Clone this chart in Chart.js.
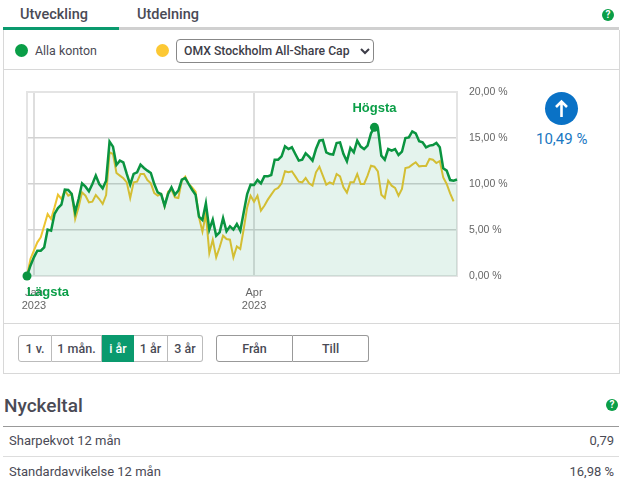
<!DOCTYPE html>
<html lang="sv">
<head>
<meta charset="utf-8">
<script src="https://cdn.jsdelivr.net/npm/chart.js@4"></script>
<style>
html, body { margin: 0; padding: 0; background: #fff; }
body { width: 625px; height: 486px; position: relative; overflow: hidden; font-family: Roboto, sans-serif; color: #4a4a55; }
.abs { position: absolute; white-space: nowrap; }
.hline { position: absolute; height: 1px; }
.dot { position: absolute; border-radius: 50%; }
.help { position: absolute; width: 12px; height: 12px; border-radius: 50%; background: #0a9e47; color: #fff; font: bold 10px/12px Roboto, sans-serif; text-align: center; }
.btn { position: absolute; top: 335px; height: 25px; line-height: 25px; text-align: center; font-size: 12.5px; font-weight: 500; background: #fff; border: 1px solid #bbb; box-sizing: content-box; color: #4a4a55; }
select { position: absolute; left: 176px; top: 39px; width: 198px; height: 24px; font: 500 12.2px Roboto, sans-serif; color: #3d3d48; background: #fff; border: 1px solid #888; border-radius: 4px; padding: 0 0 0 3px; }
#chartBox { position: absolute; left: 20px; top: 85px; width: 500px; height: 235px; }
</style>
</head>
<body>
<div class="abs" style="left:20px;top:6px;font-size:14.5px;font-weight:500">Utveckling</div>
<div class="abs" style="left:137px;top:6px;font-size:14.5px;font-weight:500">Utdelning</div>
<div class="help" style="left:602px;top:9px">?</div>
<div style="position:absolute;left:3px;top:27px;width:616px;height:3px;background:#d0d0d0"></div>
<div style="position:absolute;left:3px;top:27px;width:116px;height:3px;background:#0a9a6e"></div>
<div style="position:absolute;left:3px;top:30px;width:615px;height:343px;border:1px solid #d8d8d8;border-top:0"></div>
<div class="hline" style="left:3px;top:69px;width:616px;background:#d8d8d8"></div>
<div class="hline" style="left:3px;top:323px;width:616px;background:#d8d8d8"></div>

<div class="dot" style="left:15px;top:44px;width:13px;height:13px;background:#0a9e47"></div>
<div class="abs" style="left:35px;top:43px;font-size:12.4px">Alla konton</div>
<div class="dot" style="left:156px;top:44px;width:13px;height:13px;background:#fcc834"></div>
<select><option>OMX Stockholm All-Share Cap</option></select>

<div id="chartBox"><canvas id="lineChart"></canvas></div>

<div class="dot" style="left:545px;top:92px;width:33px;height:33px;background:#0a72c6"></div>
<svg class="abs" style="left:545px;top:92px" width="33" height="33" viewBox="0 0 33 33"><path d="M16.5 25V10M11 15l5.5-5.5L22 15" fill="none" stroke="#fff" stroke-width="2.6"/></svg>
<div class="abs" style="left:536px;top:130px;font-size:15px;color:#1a78c2">10,49 %</div>

<div class="btn" style="left:18px;width:32px;border-radius:3px 0 0 3px">1 v.</div>
<div class="btn" style="left:52px;width:49px;border-left:0">1 mån.</div>
<div class="btn" style="left:102px;width:30px;border:1px solid #0a9a6e;background:#0a9a6e;color:#fff">i år</div>
<div class="btn" style="left:134px;width:33px;border-left:0">1 år</div>
<div class="btn" style="left:168px;width:34px;border-left:0;border-radius:0 3px 3px 0">3 år</div>
<div class="btn" style="left:216px;width:75px;border-color:#999;border-radius:3px 0 0 3px">Från</div>
<div class="btn" style="left:293px;width:75px;border-color:#999;border-left:0;border-radius:0 3px 3px 0">Till</div>

<div class="abs" style="left:4px;top:394px;font-size:19px;font-weight:500">Nyckeltal</div>
<div class="help" style="left:606px;top:399px">?</div>
<div class="hline" style="left:3px;top:426px;width:616px;background:#999"></div>
<div class="abs" style="left:9px;top:433px;font-size:13px">Sharpekvot 12 mån</div>
<div class="abs" style="right:11px;top:433px;font-size:13px">0,79</div>
<div class="hline" style="left:3px;top:456px;width:616px;background:#ddd"></div>
<div class="abs" style="left:9px;top:464px;font-size:13px">Standardavvikelse 12 mån</div>
<div class="abs" style="right:11px;top:464px;font-size:13px">16,98 %</div>

<script>
// Alla konton
const kontoValues = [
    0, 1.12, 2.03, 2.75, 2.75, 3.12, 5.04, 4.93, 6.74, 7.39,
    7.75, 9.38, 9.35, 8.91, 6.92, 8.37, 10.07, 9.71, 9.2, 10,
    10.91, 10, 9.53, 10.36, 14.6, 14.06, 12.07, 12.54, 12.36, 11.09,
    9.93, 11.09, 11.27, 12.1, 11.74, 11.45, 11.2, 10, 9.09, 8.91,
    7.64, 8.91, 9.64, 8.84, 9.28, 10.47, 10.65, 10, 9.38, 8.84,
    6.45, 6.09, 7.9, 5.04, 6.12, 4.38, 4.75, 6.3, 4.86, 5.4,
    5.04, 5.65, 4.93, 6.92, 8.91, 9.93, 9.89, 10.43, 10.07, 10.83,
    10.83, 10.98, 12.64, 12.64, 13, 14.09, 13.8, 13.99, 13.26, 12.54,
    12.64, 13.33, 12.97, 12.54, 13.8, 14.71, 14.78, 13.44, 13.26, 13.19,
    14.46, 14.53, 13.26, 12.46, 13.91, 13.44, 14.71, 14.06, 13.8, 14.17,
    15.51, 16.16, 16.09, 13.08, 12.64, 13.8, 13.62, 13.8, 13.15, 13.51,
    15, 15.07, 15.72, 15.51, 14.64, 14.53, 13.99, 14.17, 14.24, 14.46,
    13.99, 11.7, 11.45, 10.43, 10.36, 10.49
];
// OMX Stockholm All-Share Cap
const indexValues = [
    0, 1.85, 2.75, 3.66, 4.2, 5.47, 6.74, 6.2, 7.46, 8.84,
    8.37, 9.28, 8.73, 8.91, 6.2, 7.46, 9.09, 8.73, 8, 8.08,
    8.8, 8.37, 7.83, 8.8, 13.44, 13.26, 11.2, 10.91, 10.62, 10.18,
    8.48, 10.18, 10.25, 11.09, 11.09, 10.43, 10.07, 9.02, 8.73, 8.91,
    7.57, 9.17, 9.38, 8.55, 8.48, 10.36, 10.8, 10, 9.64, 9.17,
    6.38, 4.82, 6.74, 2.5, 3.95, 2.03, 3.12, 4.38, 4.02, 3.95,
    2.03, 3.22, 2.93, 5.11, 7.46, 8.73, 8.08, 8.73, 7.1, 7.64,
    8.3, 8.84, 9.38, 9.57, 10.07, 11.38, 11.27, 11.38, 10.83, 10.25,
    10.18, 10.65, 10.07, 9.82, 11.27, 11.88, 10.91, 9.93, 10.18, 10,
    11.09, 10.83, 9.64, 9.06, 10.18, 10.18, 11.09, 10, 10, 10.91,
    11.99, 11.88, 11.38, 8.84, 8.48, 10.36, 9.82, 9.57, 8.73, 9.46,
    11.74, 11.81, 12.1, 12.36, 11.92, 11.96, 11.96, 12.72, 12.64, 12.28,
    12.5, 10.72, 10, 8.99, 8.12, null
];
const yTicks = [0, 5, 10, 15, 20];
const xTicks = { 2: ['Jan', '2023'], 66: ['Apr', '2023'] };
const lowIndex = 0;
const highIndex = 101;

const categories = kontoValues.map((v, i) => xTicks[i] || '');

// Nollställ skalornas extra marginal så att plotytan hamnar rätt
function noScalePadding(scale) {
    scale.paddingLeft = 0;
    scale.paddingRight = 0;
    scale.paddingTop = 0;
    scale.paddingBottom = 0;
}

// Ram runt plotytan och texterna Lägsta / Högsta
const framePlugin = {
    id: 'frame',
    beforeDatasetsDraw(chart) {
        const { ctx, chartArea: a } = chart;
        ctx.save();
        ctx.strokeStyle = '#e4e4e4';
        ctx.lineWidth = 2;
        ctx.strokeRect(a.left, a.top, a.right - a.left, a.bottom - a.top);
        ctx.restore();
    },
    afterDraw(chart) {
        const { ctx, scales } = chart;
        ctx.save();
        ctx.fillStyle = '#0a9e47';
        ctx.font = 'bold 13px "Liberation Sans"';
        ctx.textAlign = 'center';
        ctx.textBaseline = 'middle';
        ctx.fillText('Högsta', scales.x.getPixelForValue(highIndex), scales.y.getPixelForValue(kontoValues[highIndex]) - 19);
        ctx.fillText('Lägsta', scales.x.getPixelForValue(lowIndex) + 21, scales.y.getPixelForValue(0) + 16);
        ctx.restore();
    }
};

const config = {
    type: 'line',
    data: {
        labels: categories,
        datasets: [
            {
                label: 'Alla konton',
                data: kontoValues,
                borderColor: '#0a9440',
                backgroundColor: 'rgba(10, 148, 90, 0.11)',
                borderWidth: 2.5,
                fill: 'origin',
                tension: 0,
                pointRadius: (c) => (c.dataIndex === lowIndex || c.dataIndex === highIndex) ? 4.5 : 0,
                pointBackgroundColor: '#0a9440',
                pointBorderWidth: 0
            },
            {
                label: 'OMX Stockholm All-Share Cap',
                data: indexValues,
                borderColor: '#ecc430',
                borderWidth: 2,
                fill: false,
                tension: 0,
                pointRadius: 0
            }
        ]
    },
    options: {
        responsive: true,
        maintainAspectRatio: false,
        animation: false,
        clip: false,
        layout: { padding: { left: 7, top: 7, right: 0, bottom: 0 } },
        scales: {
            x: {
                grid: {
                    drawTicks: false,
                    lineWidth: 2,
                    color: (c) => (c.tick && c.tick.label && c.tick.label !== '') ? '#dedede' : 'transparent'
                },
                border: { display: false },
                ticks: {
                    autoSkip: false,
                    maxRotation: 0,
                    padding: 11,
                    color: '#666',
                    font: { family: '"Liberation Sans"', size: 11, lineHeight: 1.15 },
                    callback: function(value) { return this.getLabelForValue(value); }
                },
                afterFit(scale) { scale.height = 44; noScalePadding(scale); }
            },
            y: {
                position: 'right',
                min: 0,
                max: 20,
                afterBuildTicks(scale) { scale.ticks = yTicks.map((v) => ({ value: v })); },
                grid: { drawTicks: false, color: '#d2d2d2', lineWidth: 1.5 },
                border: { display: false },
                ticks: {
                    padding: 12,
                    color: '#666',
                    font: { family: '"Liberation Sans"', size: 10.5 },
                    callback: (value) => value.toFixed(2).replace('.', ',') + ' %'
                },
                afterFit(scale) { scale.width = 63; noScalePadding(scale); }
            }
        },
        plugins: {
            legend: { display: false },
            title: { display: false },
            tooltip: { enabled: false }
        }
    },
    plugins: [framePlugin]
};

const ctx = document.getElementById('lineChart').getContext('2d');
const myChart = new Chart(ctx, config);
</script>
</body>
</html>
